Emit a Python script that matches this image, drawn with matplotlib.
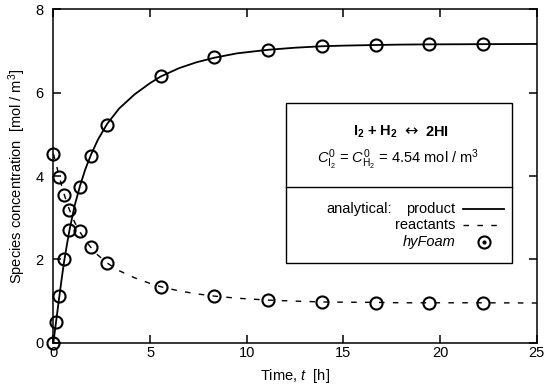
import matplotlib
matplotlib.use("Agg")
import matplotlib.pyplot as plt
from matplotlib.lines import Line2D
from matplotlib.patches import Rectangle

plt.rcParams['font.family'] = ['Liberation Sans', 'DejaVu Sans']
plt.rcParams['mathtext.fontset'] = 'custom'
plt.rcParams['mathtext.rm'] = 'Liberation Sans'
plt.rcParams['mathtext.it'] = 'Liberation Sans:italic'
plt.rcParams['mathtext.bf'] = 'Liberation Sans:bold'
plt.rcParams['lines.scale_dashes'] = False

# analytical curves
t_curve = [0, 0.139, 0.278, 0.42, 0.556, 0.7, 0.833, 1.1, 1.389, 1.65, 1.944, 2.3,
           2.778, 3.4, 4.2, 5.0, 5.556, 6.5, 7.4, 8.333, 9.5, 11.11, 12.5, 13.89,
           15, 16.67, 18, 19.44, 22.22, 25]
product_curve = [0, 0.50, 1.00, 1.50, 1.95, 2.35, 2.70, 3.29, 3.78, 4.16, 4.51, 4.87,
                 5.25, 5.62, 5.96, 6.23, 6.39, 6.59, 6.73, 6.84, 6.945, 7.03, 7.08, 7.115,
                 7.13, 7.145, 7.155, 7.16, 7.165, 7.17]
reactant_curve = [4.54, 4.29, 4.04, 3.79, 3.565, 3.365, 3.19, 2.895, 2.65, 2.46, 2.285, 2.105,
                  1.915, 1.73, 1.56, 1.425, 1.345, 1.245, 1.175, 1.12, 1.07, 1.025, 1.00, 0.98,
                  0.975, 0.97, 0.96, 0.96, 0.96, 0.955]

# hyFoam points
t_prod = [0, 0.139, 0.278, 0.556, 0.833, 1.389, 1.944, 2.778, 5.556, 8.333, 11.11,
          13.89, 16.67, 19.44, 22.22]
prod_pts = [0, 0.50, 1.12, 2.00, 2.70, 3.74, 4.49, 5.23, 6.41, 6.85, 7.03,
            7.12, 7.15, 7.16, 7.17]
t_reac = [0, 0.278, 0.556, 0.833, 1.389, 1.944, 2.778, 5.556, 8.333, 11.11,
          13.89, 16.67, 19.44, 22.22]
reac_pts = [4.53, 3.98, 3.54, 3.18, 2.68, 2.31, 1.92, 1.33, 1.13, 1.02,
            0.97, 0.95, 0.945, 0.95]

x_ticks = [0, 5, 10, 15, 20, 25]
y_ticks = [0, 2, 4, 6, 8]

fig = plt.figure(figsize=(5.5, 3.9), dpi=100)
ax = fig.add_axes([0.097, 0.121, 0.879, 0.855])

ax.plot(t_curve, product_curve, color='black', lw=1.3)
ax.plot(t_curve, reactant_curve, color='black', lw=1.0, dashes=(4, 6))
mk = dict(marker='o', ms=8.7, mfc='none', mec='black', mew=1.5, ls='none', clip_on=False, zorder=5)
ax.plot(t_prod, prod_pts, **mk)
ax.plot(t_reac, reac_pts, **mk)

ax.set_xlim(0, 25)
ax.set_ylim(0, 8)
ax.set_xticks(x_ticks)
ax.set_yticks(y_ticks)
ax.tick_params(direction='in', length=6, width=1.1, top=True, right=True,
               labelsize=10.5, colors='black')
ax.tick_params(axis='x', pad=2.5)
ax.tick_params(axis='y', pad=7)
for s in ax.spines.values():
    s.set_linewidth(1.1)
ax.set_xlabel(r'Time, $t$  [h]', fontsize=10.5, labelpad=5)
ax.set_ylabel(r'Species concentration  [mol / m$^3$]', fontsize=10.5, labelpad=5)

# legend box (figure pixel coordinates -> axes coordinates)
def ax_xy(px, py):
    x0, x1 = 53.3, 536.7
    y0, y1 = 342.7, 9.3
    return ((px - x0) / (x1 - x0), (y0 - py) / (y0 - y1))

bl = ax_xy(286, 262.7)
tr = ax_xy(512.3, 102.7)
ax.add_patch(Rectangle(bl, tr[0] - bl[0], tr[1] - bl[1], transform=ax.transAxes,
                       fill=True, fc='white', ec='black', lw=1.0, zorder=6))
d1 = ax_xy(286, 187.3); d2 = ax_xy(512.3, 187.3)
ax.add_line(Line2D([d1[0], d2[0]], [d1[1], d2[1]], transform=ax.transAxes, color='black', lw=1.0, zorder=7))

p = ax_xy(375, 132)
ax.text(p[0], p[1], r'$\mathbf{I_2}$ $\mathbf{+}$ $\mathbf{H_2}$',
        transform=ax.transAxes, ha='center', va='center', fontsize=10.5, zorder=8)
p = ax_xy(410.5, 131)
ax.text(p[0], p[1], '\u2194', family=['DejaVu Sans'],
        transform=ax.transAxes, ha='center', va='center', fontsize=11.5, zorder=8)
p = ax_xy(425, 132)
ax.text(p[0], p[1], r'$\mathbf{2HI}$',
        transform=ax.transAxes, ha='left', va='center', fontsize=10.5, zorder=8)
p = ax_xy(398, 160)
ax.text(p[0], p[1], r'$C^0_{\mathrm{I}_2}$ = $C^0_{\mathrm{H}_2}$ = 4.54 mol / m$^3$',
        transform=ax.transAxes, ha='center', va='center', fontsize=10.5, zorder=8)

p = ax_xy(392, 209)
ax.text(p[0], p[1], 'analytical:', transform=ax.transAxes, ha='right', va='center', fontsize=10.5, zorder=8)
p = ax_xy(455, 209)
ax.text(p[0], p[1], 'product', transform=ax.transAxes, ha='right', va='center', fontsize=10.5, zorder=8)
p = ax_xy(455, 225)
ax.text(p[0], p[1], 'reactants', transform=ax.transAxes, ha='right', va='center', fontsize=10.5, zorder=8)
p = ax_xy(455, 242)
ax.text(p[0], p[1], 'hyFoam', transform=ax.transAxes, ha='right', va='center', fontsize=10.5,
        style='italic', zorder=8)

a = ax_xy(463, 209); b = ax_xy(504, 209)
ax.add_line(Line2D([a[0], b[0]], [a[1], b[1]], transform=ax.transAxes, color='black', lw=1.3, zorder=8))
a = ax_xy(463, 225); b = ax_xy(504, 225)
ax.add_line(Line2D([a[0], b[0]], [a[1], b[1]], transform=ax.transAxes, color='black', lw=1.0,
                   dashes=(4, 6), zorder=8))
m = ax_xy(484, 242)
ax.add_line(Line2D([m[0]], [m[1]], transform=ax.transAxes, marker='o', ms=8.7, mfc='none',
                   mec='black', mew=1.5, zorder=8))
ax.add_line(Line2D([m[0]], [m[1]], transform=ax.transAxes, marker='o', ms=2, mfc='black',
                   mec='black', zorder=8))

fig.savefig('out.png', dpi=100)
